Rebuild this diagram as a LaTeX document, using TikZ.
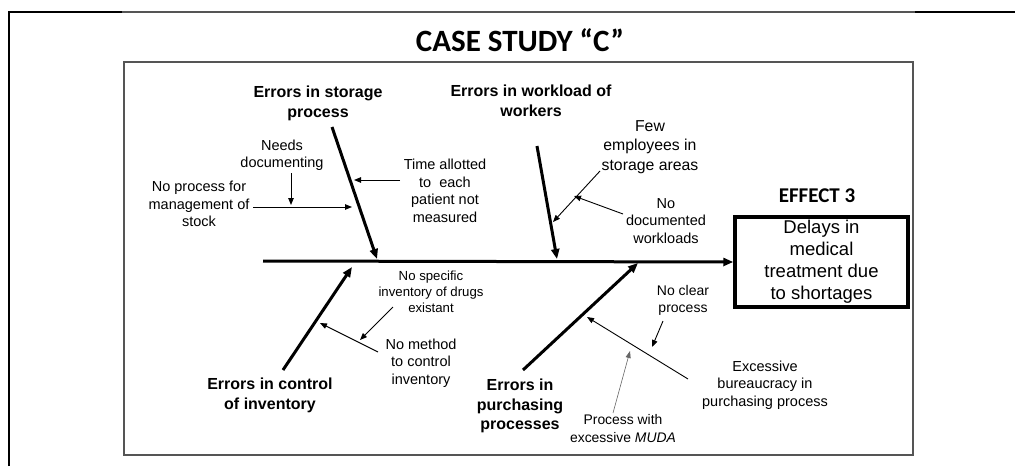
\documentclass[tikz,border=0pt]{standalone}
\usepackage{fontspec}
\setmainfont{Liberation Sans}
\newfontfamily\calibri{Carlito}
\usetikzlibrary{arrows.meta, positioning}
\definecolor{framegray}{RGB}{85,85,85}
\tikzstyle{bone} = [draw, line width=3pt, -{Triangle[length=10pt,width=8pt]}]
\tikzstyle{line} = [draw, line width=0.9pt, -{Triangle[length=7pt,width=5.5pt]}]
\tikzstyle{thinline} = [draw, line width=0.6pt, gray!80!black, -{Triangle[length=7pt,width=5pt]}]
\tikzstyle{cause} = [font=\fontsize{16}{19.8}\selectfont\bfseries, align=center, inner sep=0pt]
\tikzstyle{sub} = [font=\fontsize{14.5}{17.5}\selectfont, align=center, inner sep=0pt]

\begin{document}
\begin{tikzpicture}[x=1pt,y=-1pt]
		\useasboundingbox (0,0) rectangle (1015,466);
		
		% Marcos
		\draw[line width=2pt] (9,466) -- (9,12) -- (122,12);
		\draw[line width=1.5pt, framegray] (122,12) -- (915,12);
		\draw[line width=2pt] (915,12) -- (1015,12);
		\draw[line width=1.5pt, framegray] (124,62) rectangle (913,455);
		
		% Titulo y efecto
		\node[font=\calibri\bfseries\fontsize{31}{34}\selectfont] (title) at (520,40) {CASE STUDY “C”};
		\node[font=\calibri\bfseries\fontsize{21}{24}\selectfont] (effectlabel) at (817,196) {EFFECT 3};
		\node[draw, line width=3.5pt, minimum width=173, minimum height=90, inner sep=0pt,
			align=center, font=\fontsize{18.5}{22}\selectfont] (effect) at (821.5,262)
			{Delays in\\medical\\treatment due\\to shortages};
		
		% Espina principal
		\coordinate (spine) at (263,261);
		\draw[bone] (spine) -- (effect.west);
		
		% Etiquetas de las causas
		\node[cause] (storage) at (318,103) {Errors in storage\\process};
		\node[cause] (workload) at (531,101) {Errors in workload of\\workers};
		\node[cause] (control) at (270,395) {Errors in control\\of inventory};
		\node[cause] (purchasing) at (520,406) {Errors in\\purchasing\\processes};
		
		% Espinas de las causas
		\coordinate (storage-a) at (332,127);
		\coordinate (storage-b) at (377,259);
		\coordinate (workload-a) at (537,146);
		\coordinate (workload-b) at (557,259);
		\coordinate (control-a) at (283,370);
		\coordinate (control-b) at (352,267);
		\coordinate (purchasing-a) at (523,370);
		\coordinate (purchasing-b) at (638,263);
		\draw[bone] (storage-a) -- (storage-b);
		\draw[bone] (workload-a) -- (workload-b);
		\draw[bone] (control-a) -- (control-b);
		\draw[bone] (purchasing-a) -- (purchasing-b);
		
		% Subcausas
		\node[sub] (needs) at (282,155) {Needs\\documenting};
		\node[sub] (noprocess) at (199,204) {No process for\\management of\\stock};
		\node[sub] (time) at (445,191) {Time allotted\\to~ each\\patient not\\measured};
		\node[sub, font=\fontsize{15.8}{19.5}\selectfont] (few) at (650,147) {Few\\employees in\\storage areas};
		\node[sub] (nodoc) at (666,221) {No\\documented\\workloads};
		\node[sub, font=\fontsize{13.2}{16}\selectfont] (specific) at (431,292) {No specific\\inventory of drugs\\existant};
		\node[sub] (method) at (421,363) {No method\\to control\\inventory};
		\node[sub, font=\fontsize{14}{17}\selectfont] (noclear) at (683,300) {No clear\\process};
		\node[sub] (bureau) at (765,385) {Excessive\\bureaucracy in\\purchasing process};
		\node[sub, font=\fontsize{13.9}{18}\selectfont] (muda) at (623,429) {Process with\\excessive \textit{MUDA}};
		
		% Flechas de las subcausas
		\coordinate (noprocess-a) at (253,207);
		\coordinate (noprocess-b) at (352,207);
		\coordinate (needs-a) at (291,173);
		\coordinate (needs-b) at (291,205);
		\coordinate (time-a) at (400,180);
		\coordinate (time-b) at (354,180);
		\coordinate (few-a) at (600,171);
		\coordinate (few-b) at (553,222);
		\coordinate (nodoc-a) at (623,214);
		\coordinate (nodoc-b) at (574,196);
		\coordinate (specific-a) at (393,307);
		\coordinate (specific-b) at (360,340);
		\coordinate (method-a) at (378,352);
		\coordinate (method-b) at (320,323);
		\coordinate (bureau-a) at (688,379);
		\coordinate (bureau-b) at (587,317);
		\coordinate (noclear-a) at (663,321);
		\coordinate (noclear-b) at (652,347);
		\coordinate (muda-a) at (613,413);
		\coordinate (muda-b) at (630,351);
		\draw[line] (noprocess-a) -- (noprocess-b);
		\draw[line] (needs-a) -- (needs-b);
		\draw[line] (time-a) -- (time-b);
		\draw[line] (few-a) -- (few-b);
		\draw[line] (nodoc-a) -- (nodoc-b);
		\draw[line] (specific-a) -- (specific-b);
		\draw[line] (method-a) -- (method-b);
		\draw[line] (bureau-a) -- (bureau-b);
		\draw[line] (noclear-a) -- (noclear-b);
		\draw[thinline] (muda-a) -- (muda-b);
	\end{tikzpicture}
\end{document}
